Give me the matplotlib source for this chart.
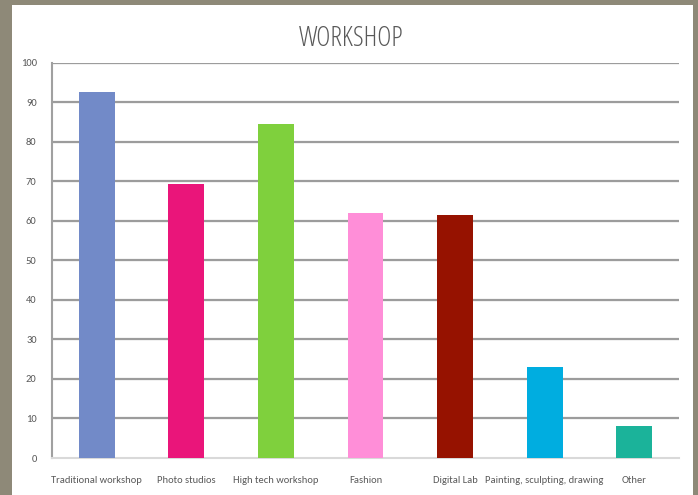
import matplotlib
matplotlib.use("Agg")
import matplotlib.pyplot as plt
from matplotlib.patches import Rectangle
from matplotlib import font_manager
from matplotlib.font_manager import FontProperties

categories = ["Traditional workshop", "Photo studios", "High tech workshop", "Fashion",
              "Digital Lab", "Painting, sculpting, drawing", "Other"]
values = [92.7, 69.2, 84.6, 61.9, 61.4, 23.1, 8.2]
colors = ["#728AC8", "#EA157A", "#7FD03D", "#FF8ED8", "#961200", "#00ADE0", "#1BB39A"]
yticks = [0, 10, 20, 30, 40, 50, 60, 70, 80, 90, 100]
title = "WORKSHOP"

fl = font_manager.fontManager.ttflist


def find(name=None, stretch=None, weight=None, style="normal"):
    for f in fl:
        if name is not None and f.name != name:
            continue
        if stretch is not None and str(f.stretch) != stretch:
            continue
        if weight is not None and str(f.weight) != str(weight):
            continue
        if f.style != style:
            continue
        return f.fname
    return None


def pick(cands):
    for c in cands:
        r = find(**c)
        if r:
            return r
    return None


body = pick([dict(name="Carlito", weight=400), dict(name="Carlito"),
             dict(name="Open Sans", stretch="condensed", weight=400),
             dict(name="Liberation Sans Narrow", weight=400),
             dict(name="DejaVu Sans", stretch="condensed", weight=400)])
light = pick([dict(name="Open Sans", stretch="condensed", weight=300),
              dict(name="Lato", weight=300),
              dict(name="Roboto", weight=300)])
body_fp = FontProperties(fname=body) if body else FontProperties(family="DejaVu Sans", stretch="condensed")
title_fp = FontProperties(fname=light) if light else FontProperties(family="DejaVu Sans")

W, H = 698, 495
fig = plt.figure(figsize=(W / 100, H / 100), dpi=100)
fig.patch.set_facecolor("#8E8978")
fig.add_artist(Rectangle((12 / W, 0), (693 - 12) / W, 1 - 5 / H,
                         transform=fig.transFigure, facecolor="white", edgecolor="none", zorder=0))

ax = fig.add_axes([52 / W, 1 - 458 / H, (679 - 52) / W, (458 - 62.7) / H])
ax.set_facecolor("none")
x = list(range(len(categories)))
ax.bar(x, values, width=0.40, color=colors, zorder=3)
ax.set_xlim(-0.5, len(categories) - 0.5)
ax.set_ylim(0, 100)
ax.set_yticks(yticks)
ax.set_xticks(x)
ax.set_xticklabels(categories)
for yv in yticks[1:]:
    ax.axhline(yv, color="#9c9c9c", lw=1.6, zorder=1)
    ax.axhline(yv, color="#d6d6d6", lw=0.8, zorder=0.9)
for s in ["top", "right"]:
    ax.spines[s].set_visible(False)
ax.spines["left"].set_color("#a0a0a0")
ax.spines["left"].set_linewidth(1.5)
ax.spines["bottom"].set_color("#d9d9d9")
ax.spines["bottom"].set_linewidth(1.5)
ax.tick_params(axis="both", length=0, labelcolor="#595959")
ax.tick_params(axis="y", pad=11)
ax.tick_params(axis="x", pad=13)
for lab in ax.get_xticklabels() + ax.get_yticklabels():
    lab.set_fontproperties(body_fp)
    lab.set_fontsize(7.6)

fig.text(351 / W, 1 - 45.7 / H, title, ha="center", va="baseline", fontproperties=title_fp,
         fontsize=19.5, color="#595959")

fig.savefig("out.png", dpi=100, facecolor=fig.get_facecolor())
